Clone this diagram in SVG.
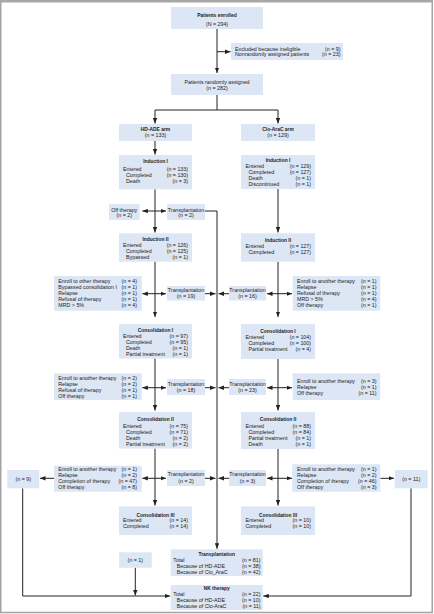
<svg xmlns="http://www.w3.org/2000/svg" width="434" height="614" viewBox="0 0 434 614">
<style>
.bx{fill:#dce6f5}
.t{font-family:"Liberation Sans",Arial,sans-serif;font-size:5.3px;fill:#222}
.b{font-family:"Liberation Sans",Arial,sans-serif;font-size:4.9px;font-weight:bold;fill:#222}
.c{text-anchor:middle}
.r{text-anchor:end}
.ln{stroke:#222;stroke-width:1;fill:none}
.a{marker-end:url(#ah)}
.d{marker-start:url(#ah);marker-end:url(#ah)}
</style>
<defs>
<marker id="ah" markerUnits="userSpaceOnUse" markerWidth="5.5" markerHeight="4.5" viewBox="0 0 10 8" refX="10" refY="4" orient="auto-start-reverse"><path d="M0,0 L10,4 L0,8 z" fill="#222"/></marker>
</defs>
<rect x="0" y="0" width="434" height="614" fill="#fff"/>
<rect x="0.75" y="0.75" width="431.5" height="611.75" fill="none" stroke="#a3a3a3" stroke-width="1.5"/>
<rect x="0" y="0" width="433" height="2.5" fill="#a8a8a8"/>

<g id="connectors">
<path class="ln a" d="M217,29 V73"/>
<path class="ln a" d="M217,51.7 H230.5"/>
<path class="ln a" d="M217,95 V110 H155 V123.5"/>
<path class="ln a" d="M217,110 H278 V123.5"/>
<path class="ln a" d="M155,141 V154.5"/>
<path class="ln a" d="M155,189.3 V232.5"/>
<path class="ln d" d="M142.3,211 H166"/>
<path class="ln a" d="M205,211 H217 V548.8"/>
<path class="ln a" d="M278,189 V232.5"/>
<path class="ln a" d="M155,261.7 V317"/>
<path class="ln d" d="M142.3,293.7 H166"/>
<path class="ln a" d="M205,293.7 H215.5"/>
<path class="ln a" d="M278,261.7 V317"/>
<path class="ln d" d="M267,293.7 H292"/>
<path class="ln a" d="M229,293.7 H218.5"/>
<path class="ln a" d="M155,358.5 V410.5"/>
<path class="ln d" d="M142.3,387.7 H166"/>
<path class="ln a" d="M205,387.7 H215.5"/>
<path class="ln a" d="M278,359 V410.5"/>
<path class="ln d" d="M267,387.7 H292"/>
<path class="ln a" d="M229,387.7 H218.5"/>
<path class="ln a" d="M155,448.5 V505.5"/>
<path class="ln d" d="M142.3,478.3 H166"/>
<path class="ln a" d="M205,478.3 H215.5"/>
<path class="ln a" d="M54,478.3 H40"/>
<path class="ln a" d="M278,449 V505.5"/>
<path class="ln d" d="M267,478.3 H292"/>
<path class="ln a" d="M229,478.3 H218.5"/>
<path class="ln a" d="M380.3,478.3 H394"/>
<path class="ln a" d="M22.7,488.3 V596 H170.2"/>
<path class="ln a" d="M135.3,567.7 V595.5"/>
<path class="ln a" d="M411,488.3 V596 H263.3"/>
</g>

<g id="enrolled">
<rect class="bx" x="171" y="7" width="92" height="22"/>
<text class="b c" x="217" y="16.8">Patients enrolled</text>
<text class="t c" x="217" y="25.6">(N = 294)</text>
</g>
<g id="excluded">
<rect class="bx" x="231" y="43" width="112" height="17"/>
<text class="t" x="235" y="50.6">Excluded because ineligible</text>
<text class="t r" x="340.5" y="50.6">(n = 9)</text>
<text class="t" x="235" y="56.3">Nonrandomly assigned patients</text>
<text class="t r" x="340.5" y="56.3">(n = 23)</text>
</g>
<g id="randomized">
<rect class="bx" x="171" y="74" width="92" height="21"/>
<text class="t c" x="217" y="83.9">Patients randomly assigned</text>
<text class="t c" x="217" y="89.9">(n = 282)</text>
</g>
<g id="hdade-arm">
<rect class="bx" x="119" y="124" width="73" height="17"/>
<text class="b c" x="155.5" y="131">HD-ADE arm</text>
<text class="t c" x="155.5" y="136.9">(n = 133)</text>
</g>
<g id="cloarac-arm">
<rect class="bx" x="241" y="124" width="74" height="17"/>
<text class="b c" x="278" y="131">Clo-AraC arm</text>
<text class="t c" x="278" y="136.9">(n = 129)</text>
</g>

<g id="ind1-left">
<rect class="bx" x="119" y="155" width="73" height="34.3"/>
<text class="b c" x="155.5" y="163">Induction I</text>
<text class="t" x="123" y="170.9">Entered</text><text class="t r" x="188" y="170.9">(n = 133)</text>
<text class="t" x="126" y="176.6">Completed</text><text class="t r" x="188" y="176.6">(n = 130)</text>
<text class="t" x="126" y="182.6">Death</text><text class="t r" x="188" y="182.6">(n = 3)</text>
</g>
<g id="ind1-right">
<rect class="bx" x="241" y="155" width="74" height="34"/>
<text class="b c" x="278" y="161.9">Induction I</text>
<text class="t" x="245.5" y="167.6">Entered</text><text class="t r" x="311" y="167.6">(n = 129)</text>
<text class="t" x="248.5" y="173.6">Completed</text><text class="t r" x="311" y="173.6">(n = 127)</text>
<text class="t" x="248.5" y="179.6">Death</text><text class="t r" x="311" y="179.6">(n = 1)</text>
<text class="t" x="248.5" y="185.6">Discontinued</text><text class="t r" x="311" y="185.6">(n = 1)</text>
</g>
<g id="off1-left">
<rect class="bx" x="109" y="204" width="30.5" height="16"/>
<text class="t c" x="124.2" y="211.9">Off therapy</text>
<text class="t c" x="124.2" y="217.4">(n = 2)</text>
</g>
<g id="tx1-left">
<rect class="bx" x="167" y="204" width="38" height="16"/>
<text class="t c" x="186" y="211.9">Transplantation</text>
<text class="t c" x="186" y="217.4">(n = 2)</text>
</g>

<g id="ind2-left">
<rect class="bx" x="119" y="233.3" width="73" height="28.4"/>
<text class="b c" x="155.5" y="240.9">Induction II</text>
<text class="t" x="123" y="246.6">Entered</text><text class="t r" x="188" y="246.6">(n = 126)</text>
<text class="t" x="126" y="252.6">Completed</text><text class="t r" x="188" y="252.6">(n = 125)</text>
<text class="t" x="126" y="258.6">Bypassed</text><text class="t r" x="188" y="258.6">(n = 1)</text>
</g>
<g id="ind2-right">
<rect class="bx" x="241" y="233.3" width="74" height="28.4"/>
<text class="b c" x="278" y="241.9">Induction II</text>
<text class="t" x="245.5" y="248.2">Entered</text><text class="t r" x="311" y="248.2">(n = 127)</text>
<text class="t" x="248.5" y="254.2">Completed</text><text class="t r" x="311" y="254.2">(n = 127)</text>
</g>
<g id="side2-left">
<rect class="bx" x="54" y="276" width="87.7" height="34.7"/>
<text class="t" x="58.3" y="282.9">Enroll to other therapy</text><text class="t r" x="137" y="282.9">(n = 4)</text>
<text class="t" x="58.3" y="288.9">Bypassed consolidation I</text><text class="t r" x="137" y="288.9">(n = 1)</text>
<text class="t" x="58.3" y="294.9">Relapse</text><text class="t r" x="137" y="294.9">(n = 1)</text>
<text class="t" x="58.3" y="300.9">Refusal of therapy</text><text class="t r" x="137" y="300.9">(n = 1)</text>
<text class="t" x="58.3" y="306.9">MRD &gt; 5%</text><text class="t r" x="137" y="306.9">(n = 4)</text>
</g>
<g id="tx2-left">
<rect class="bx" x="167" y="286" width="38" height="14.5"/>
<text class="t c" x="186" y="291.9">Transplantation</text>
<text class="t c" x="186" y="297.9">(n = 19)</text>
</g>
<g id="tx2-right">
<rect class="bx" x="229" y="286" width="37" height="14.5"/>
<text class="t c" x="247.5" y="291.9">Transplantation</text>
<text class="t c" x="247.5" y="297.9">(n = 16)</text>
</g>
<g id="side2-right">
<rect class="bx" x="292.7" y="276" width="87.6" height="34.7"/>
<text class="t" x="297" y="282.9">Enroll to another therapy</text><text class="t r" x="376.5" y="282.9">(n = 1)</text>
<text class="t" x="297" y="288.9">Relapse</text><text class="t r" x="376.5" y="288.9">(n = 1)</text>
<text class="t" x="297" y="294.9">Refusal of therapy</text><text class="t r" x="376.5" y="294.9">(n = 1)</text>
<text class="t" x="297" y="300.9">MRD &gt; 5%</text><text class="t r" x="376.5" y="300.9">(n = 4)</text>
<text class="t" x="297" y="306.9">Off therapy</text><text class="t r" x="376.5" y="306.9">(n = 1)</text>
</g>

<g id="cons1-left">
<rect class="bx" x="119" y="324" width="73" height="34.5"/>
<text class="b c" x="155.5" y="331.9">Consolidation I</text>
<text class="t" x="123" y="337.6">Entered</text><text class="t r" x="188" y="337.6">(n = 97)</text>
<text class="t" x="126" y="343.6">Completed</text><text class="t r" x="188" y="343.6">(n = 95)</text>
<text class="t" x="126" y="349.6">Death</text><text class="t r" x="188" y="349.6">(n = 1)</text>
<text class="t" x="126" y="355.6">Partial treatment</text><text class="t r" x="188" y="355.6">(n = 1)</text>
</g>
<g id="cons1-right">
<rect class="bx" x="241" y="324" width="74" height="35"/>
<text class="b c" x="278" y="332.9">Consolidation I</text>
<text class="t" x="245.5" y="338.9">Entered</text><text class="t r" x="311" y="338.9">(n = 104)</text>
<text class="t" x="248.5" y="344.9">Completed</text><text class="t r" x="311" y="344.9">(n = 100)</text>
<text class="t" x="248.5" y="350.9">Partial treatment</text><text class="t r" x="311" y="350.9">(n = 4)</text>
</g>
<g id="side3-left">
<rect class="bx" x="54" y="373.3" width="87.7" height="26.7"/>
<text class="t" x="58.3" y="380.2">Enroll to another therapy</text><text class="t r" x="137" y="380.2">(n = 2)</text>
<text class="t" x="58.3" y="386">Relapse</text><text class="t r" x="137" y="386">(n = 2)</text>
<text class="t" x="58.3" y="392">Refusal of therapy</text><text class="t r" x="137" y="392">(n = 1)</text>
<text class="t" x="58.3" y="398">Off therapy</text><text class="t r" x="137" y="398">(n = 1)</text>
</g>
<g id="tx3-left">
<rect class="bx" x="167" y="379" width="38" height="16"/>
<text class="t c" x="186" y="385.9">Transplantation</text>
<text class="t c" x="186" y="392.2">(n = 18)</text>
</g>
<g id="tx3-right">
<rect class="bx" x="229" y="379" width="37" height="16"/>
<text class="t c" x="247.5" y="385.9">Transplantation</text>
<text class="t c" x="247.5" y="392.2">(n = 23)</text>
</g>
<g id="side3-right">
<rect class="bx" x="292.7" y="373.3" width="87.6" height="26.7"/>
<text class="t" x="297" y="382.9">Enroll to another therapy</text><text class="t r" x="376.5" y="382.9">(n = 3)</text>
<text class="t" x="297" y="388.9">Relapse</text><text class="t r" x="376.5" y="388.9">(n = 1)</text>
<text class="t" x="297" y="394.9">Off therapy</text><text class="t r" x="376.5" y="394.9">(n = 11)</text>
</g>

<g id="cons2-left">
<rect class="bx" x="119" y="412" width="73" height="36.5"/>
<text class="b c" x="155.5" y="420.9">Consolidation II</text>
<text class="t" x="123" y="427.9">Entered</text><text class="t r" x="188" y="427.9">(n = 75)</text>
<text class="t" x="126" y="434.3">Completed</text><text class="t r" x="188" y="434.3">(n = 71)</text>
<text class="t" x="126" y="440.4">Death</text><text class="t r" x="188" y="440.4">(n = 2)</text>
<text class="t" x="126" y="446.2">Partial treatment</text><text class="t r" x="188" y="446.2">(n = 2)</text>
</g>
<g id="cons2-right">
<rect class="bx" x="241" y="412" width="74" height="37"/>
<text class="b c" x="278" y="420.9">Consolidation II</text>
<text class="t" x="245.5" y="427.9">Entered</text><text class="t r" x="311" y="427.9">(n = 88)</text>
<text class="t" x="248.5" y="434.3">Completed</text><text class="t r" x="311" y="434.3">(n = 84)</text>
<text class="t" x="248.5" y="440.4">Partial treatment</text><text class="t r" x="311" y="440.4">(n = 1)</text>
<text class="t" x="248.5" y="446.4">Death</text><text class="t r" x="311" y="446.4">(n = 1)</text>
</g>
<g id="side4-left">
<rect class="bx" x="54" y="465.7" width="87.7" height="26"/>
<text class="t" x="58.3" y="471.3">Enroll to another therapy</text><text class="t r" x="137" y="471.3">(n = 1)</text>
<text class="t" x="58.3" y="476.9">Relapse</text><text class="t r" x="137" y="476.9">(n = 2)</text>
<text class="t" x="58.3" y="482.9">Completion of therapy</text><text class="t r" x="137" y="482.9">(n = 47)</text>
<text class="t" x="58.3" y="488.9">Off therapy</text><text class="t r" x="137" y="488.9">(n = 8)</text>
</g>
<g id="n9">
<rect class="bx" x="7.3" y="470" width="32" height="18.3"/>
<text class="t c" x="23.3" y="480.6">(n = 9)</text>
</g>
<g id="tx4-left">
<rect class="bx" x="167" y="470" width="38" height="16"/>
<text class="t c" x="186" y="476.2">Transplantation</text>
<text class="t c" x="186" y="482.6">(n = 2)</text>
</g>
<g id="tx4-right">
<rect class="bx" x="229" y="470" width="37" height="16"/>
<text class="t c" x="247.5" y="476.2">Transplantation</text>
<text class="t c" x="247.5" y="482.6">(n = 3)</text>
</g>
<g id="side4-right">
<rect class="bx" x="292.2" y="464.3" width="88.1" height="27.4"/>
<text class="t" x="297" y="471.2">Enroll to another therapy</text><text class="t r" x="376.5" y="471.2">(n = 1)</text>
<text class="t" x="297" y="476.9">Relapse</text><text class="t r" x="376.5" y="476.9">(n = 2)</text>
<text class="t" x="297" y="483.2">Completion of therapy</text><text class="t r" x="376.5" y="483.2">(n = 46)</text>
<text class="t" x="297" y="489.2">Off therapy</text><text class="t r" x="376.5" y="489.2">(n = 3)</text>
</g>
<g id="n11">
<rect class="bx" x="394.7" y="470" width="33" height="18.3"/>
<text class="t c" x="411.2" y="480.6">(n = 11)</text>
</g>

<g id="cons3-left">
<rect class="bx" x="119" y="506.5" width="73" height="28.5"/>
<text class="b c" x="155.5" y="516.6">Consolidation III</text>
<text class="t" x="123" y="521.9">Entered</text><text class="t r" x="188" y="521.9">(n = 14)</text>
<text class="t" x="123" y="527.9">Completed</text><text class="t r" x="188" y="527.9">(n = 14)</text>
</g>
<g id="cons3-right">
<rect class="bx" x="241" y="506.5" width="74" height="28.5"/>
<text class="b c" x="278" y="516.6">Consolidation III</text>
<text class="t" x="245.5" y="521.9">Entered</text><text class="t r" x="311" y="521.9">(n = 10)</text>
<text class="t" x="245.5" y="527.9">Completed</text><text class="t r" x="311" y="527.9">(n = 10)</text>
</g>
<g id="n1">
<rect class="bx" x="119" y="552.3" width="32.7" height="15.4"/>
<text class="t c" x="135.3" y="562.2">(n = 1)</text>
</g>
<g id="tx-total">
<rect class="bx" x="170.7" y="549.3" width="92" height="26.7"/>
<text class="b c" x="216.7" y="555.5">Transplantation</text>
<text class="t" x="173.3" y="561.9">Total</text><text class="t r" x="260.5" y="561.9">(n = 81)</text>
<text class="t" x="176.7" y="567.6">Because of HD-ADE</text><text class="t r" x="260.5" y="567.6">(n = 38)</text>
<text class="t" x="176.7" y="573.6">Because of Clo_AraC</text><text class="t r" x="260.5" y="573.6">(n = 42)</text>
</g>
<g id="nk-therapy">
<rect class="bx" x="170.7" y="585" width="92" height="25"/>
<text class="b c" x="216.7" y="590.1">NK therapy</text>
<text class="t" x="173.3" y="596.2">Total</text><text class="t r" x="260.5" y="596.2">(n = 22)</text>
<text class="t" x="176.7" y="601.8">Because of HD-ADE</text><text class="t r" x="260.5" y="601.8">(n = 10)</text>
<text class="t" x="176.7" y="607.7">Because of Clo-AraC</text><text class="t r" x="260.5" y="607.7">(n = 11)</text>
</g>
</svg>
